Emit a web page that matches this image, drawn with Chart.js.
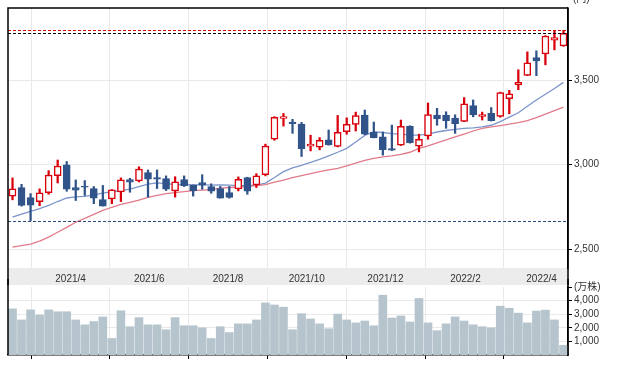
<!DOCTYPE html>
<html>
<head>
<meta charset="utf-8">
<script src="https://cdn.jsdelivr.net/npm/chart.js@4.4.1/dist/chart.umd.min.js"></script>
<style>
  body { margin: 0; background: #fff; }
  canvas { position: absolute; left: 0; }
  #price { top: 0; }
  #volume { top: 279px; }
</style>
</head>
<body>
<canvas id="price" width="624" height="285"></canvas>
<canvas id="volume" width="624" height="90"></canvas>
<script>
// weekly candles, first week starts 2021-02-15
const weekStart = Date.UTC(2021, 1, 15);
const tickLabels = ["2021/4", "2021/6", "2021/8", "2021/10", "2021/12", "2022/2", "2022/4"];

const opens = [2814, 2865, 2806, 2781, 2834, 2935, 3000, 2865, 2872, 2859, 2794, 2798, 2839, 2912, 2904, 2953,
  2924, 2918, 2845, 2912, 2879, 2894, 2871, 2859, 2835, 2857, 2924, 2881, 2941, 3151, 3275, 3253,
  3241, 3110, 3104, 3147, 3108, 3196, 3239, 3294, 3194, 3165, 3096, 3116, 3229, 3110, 3171, 3294,
  3294, 3276, 3257, 3351, 3286, 3304, 3286, 3392, 3475, 3529, 3635, 3657, 3739, 3704];
const highs = [2922, 2884, 2829, 2857, 2965, 3028, 3019, 2910, 2906, 2871, 2877, 2853, 2922, 2920, 2988, 2969,
  2969, 2934, 2929, 2934, 2880, 2941, 2887, 2871, 2871, 2928, 2926, 2947, 3122, 3285, 3304, 3269,
  3251, 3175, 3161, 3206, 3292, 3278, 3312, 3324, 3253, 3194, 3235, 3265, 3231, 3181, 3366, 3334,
  3314, 3296, 3398, 3384, 3312, 3339, 3430, 3441, 3563, 3669, 3675, 3765, 3797, 3797];
const lows = [2792, 2755, 2669, 2757, 2825, 2892, 2843, 2788, 2818, 2769, 2755, 2769, 2782, 2837, 2898, 2808,
  2859, 2847, 2808, 2871, 2814, 2855, 2831, 2802, 2802, 2845, 2825, 2865, 2934, 3145, 3229, 3186,
  3049, 3082, 3088, 3116, 3106, 3181, 3200, 3178, 3159, 3057, 3084, 3114, 3128, 3076, 3151, 3234,
  3216, 3186, 3255, 3284, 3265, 3259, 3282, 3302, 3445, 3528, 3528, 3592, 3681, 3702];
const closes = [2857, 2759, 2761, 2834, 2939, 2992, 2855, 2849, 2867, 2802, 2755, 2851, 2910, 2896, 2975, 2914,
  2914, 2855, 2898, 2876, 2847, 2879, 2843, 2802, 2806, 2914, 2843, 2934, 3110, 3281, 3286, 3243,
  3096, 3122, 3145, 3118, 3192, 3239, 3292, 3181, 3161, 3090, 3086, 3228, 3131, 3151, 3298, 3272,
  3261, 3243, 3361, 3296, 3298, 3261, 3428, 3420, 3488, 3604, 3616, 3763, 3753, 3779];
// 出来高 (万株)
const volumes = [3390, 2580, 3320, 2940, 3320, 3180, 3180, 2580, 2220, 2460, 2800, 1215, 3250, 2080, 2750, 2220,
  2220, 1860, 2750, 2150, 2150, 2000, 1215, 2080, 1650, 2290, 2290, 2580, 3830, 3680, 3520, 1860,
  3040, 2650, 2290, 1930, 3010, 2580, 2360, 2500, 2150, 4400, 2720, 2870, 2430, 4160, 2360, 1790,
  2290, 2800, 2500, 2220, 2080, 2000, 3590, 3440, 3080, 2360, 3230, 3300, 2580, 710];
// moving averages
const maShort = [2690, 2707, 2724, 2740, 2759, 2782, 2803, 2809, 2812, 2822, 2832, 2840, 2847, 2856, 2870, 2885,
  2892, 2888, 2882, 2884, 2881, 2882, 2879, 2880, 2879, 2876, 2876, 2879, 2891, 2924, 2959, 2982,
  2996, 3014, 3032, 3053, 3074, 3097, 3135, 3174, 3194, 3191, 3185, 3182, 3176, 3176, 3182, 3194,
  3203, 3210, 3216, 3218, 3224, 3234, 3256, 3282, 3308, 3347, 3384, 3418, 3452, 3488];
const maLong = [2512, 2521, 2529, 2547, 2571, 2600, 2629, 2659, 2682, 2706, 2729, 2748, 2765, 2777, 2791, 2806,
  2818, 2829, 2835, 2841, 2847, 2850, 2853, 2862, 2865, 2868, 2871, 2876, 2882, 2897, 2909, 2924,
  2935, 2947, 2959, 2969, 2979, 2994, 3009, 3026, 3038, 3047, 3053, 3062, 3074, 3097, 3112, 3129,
  3147, 3165, 3182, 3200, 3215, 3224, 3232, 3241, 3250, 3262, 3279, 3300, 3321, 3341];

const WEEK = 7 * 864e5;
const tickPos = tickLabels.map(s => {
  const [y, m] = s.split("/").map(Number);
  return (Date.UTC(y, m - 1, 1) - weekStart) / WEEK;
});

const RED = "#d9000c";
const BLUE = "#30548a";
const GRID = "#e9e9e9";
const FONT = { family: '"Liberation Sans", "Noto Sans CJK JP", sans-serif', size: 10 };
const isUp = i => closes[i] >= opens[i];
const monthTicks = scale => { scale.ticks = tickPos.map(v => ({ value: v })); };
const xRange = { type: "linear", min: -0.5, max: opens.length - 0.5, offset: false };

const frame = {
  id: "frame",
  beforeDraw(chart) {
    if (chart.canvas.id !== "price") return;
    const { ctx, chartArea: a } = chart;
    ctx.save();
    ctx.fillStyle = "#ececec";
    ctx.fillRect(a.left, a.bottom, a.right - a.left, chart.height - a.bottom);
    ctx.restore();
  },
  afterDraw(chart) {
    const { ctx, chartArea: a } = chart;
    const isPrice = chart.canvas.id === "price";
    const top = isPrice ? a.top : 0;
    const bottom = isPrice ? chart.height : a.bottom;
    ctx.save();
    ctx.strokeStyle = "#000";
    ctx.lineWidth = 1.5;
    ctx.beginPath();
    ctx.moveTo(a.left, bottom); ctx.lineTo(a.left, top);
    if (isPrice) ctx.lineTo(a.right, top);
    ctx.moveTo(a.right, top); ctx.lineTo(a.right, bottom);
    ctx.stroke();
    if (isPrice) {
      ctx.fillStyle = "#333";
      ctx.font = "10px " + FONT.family;
      ctx.fillText("(円)", 573, 2);
    }
    ctx.restore();
  }
};

// high / low / last close markers
const refLines = {
  id: "refLines",
  afterDatasetsDraw(chart) {
    const { ctx, chartArea: a, scales: { y } } = chart;
    const lines = [
      [Math.max(...highs), "#d40000"],
      [closes[closes.length - 1], "#000"],
      [Math.min(...lows), "#2c4a7c"],
    ];
    ctx.save();
    ctx.lineWidth = 1;
    ctx.setLineDash([3, 2]);
    for (const [v, c] of lines) {
      const py = Math.round(y.getPixelForValue(v)) + 0.5;
      ctx.strokeStyle = c;
      ctx.beginPath();
      ctx.moveTo(a.left, py);
      ctx.lineTo(a.right, py);
      ctx.stroke();
    }
    ctx.restore();
  }
};

new Chart(document.getElementById("price"), {
  type: "bar",
  data: {
    datasets: [
      {
        type: "line",
        data: maShort.map((v, i) => ({ x: i, y: v })),
        borderColor: "#7c95cb",
        borderWidth: 1.3,
        pointRadius: 0,
        order: 4,
      },
      {
        type: "line",
        data: maLong.map((v, i) => ({ x: i, y: v })),
        borderColor: "#e27b89",
        borderWidth: 1.3,
        pointRadius: 0,
        order: 3,
      },
      {
        // wicks
        data: lows.map((v, i) => ({ x: i, y: [v, highs[i]] })),
        backgroundColor: ctx => isUp(ctx.dataIndex) ? RED : BLUE,
        barThickness: 1.6,
        grouped: false,
        order: 2,
      },
      {
        // bodies
        data: opens.map((v, i) => ({ x: i, y: [v, closes[i]] })),
        backgroundColor: ctx => isUp(ctx.dataIndex) ? "#fff" : BLUE,
        borderColor: ctx => isUp(ctx.dataIndex) ? RED : BLUE,
        borderWidth: 1.5,
        borderSkipped: false,
        barThickness: 7,
        grouped: false,
        order: 1,
      },
    ],
  },
  options: {
    responsive: false,
    animation: false,
    devicePixelRatio: 1,
    layout: { padding: { left: 8, top: 6, right: 0, bottom: 0 } },
    plugins: { legend: { display: false }, tooltip: { enabled: false } },
    scales: {
      x: {
        ...xRange,
        afterBuildTicks: monthTicks,
        afterFit: s => { s.height = 17; },
        border: { display: false },
        grid: { color: GRID, drawTicks: false },
        ticks: { font: FONT, color: "#333", padding: 5, maxRotation: 0, autoSkip: false,
          callback: (v, i) => tickLabels[i] },
      },
      y: {
        position: "right",
        min: 2388,
        max: 3929,
        afterBuildTicks: s => { s.ticks = [2500, 3000, 3500].map(v => ({ value: v })); },
        afterFit: s => { s.width = 56; },
        border: { color: "#000", width: 1.5 },
        grid: { color: GRID, tickColor: "#000", tickLength: 4 },
        ticks: { font: FONT, color: "#333", padding: 2, callback: v => v.toLocaleString("en-US") },
      },
    },
  },
  plugins: [frame, refLines],
});

new Chart(document.getElementById("volume"), {
  type: "bar",
  data: {
    datasets: [{
      data: volumes.map((v, i) => ({ x: i, y: v })),
      backgroundColor: "#b6c5cd",
      barThickness: 8,
    }],
  },
  options: {
    responsive: false,
    animation: false,
    devicePixelRatio: 1,
    layout: { padding: { left: 8, top: 7, right: 0, bottom: 0 } },
    plugins: { legend: { display: false }, tooltip: { enabled: false } },
    scales: {
      x: {
        ...xRange,
        afterBuildTicks: monthTicks,
        afterFit: s => { s.height = 14; },
        border: { color: "#000", width: 1.5 },
        grid: { color: GRID, tickColor: "#000", tickLength: 4 },
        ticks: { display: false },
      },
      y: {
        position: "right",
        min: 0,
        max: 5000,
        afterBuildTicks: s => { s.ticks = [1000, 2000, 3000, 4000, 5000].map(v => ({ value: v })); },
        afterFit: s => { s.width = 56; },
        border: { color: "#000", width: 1.5 },
        grid: { color: c => c.tick && c.tick.value === 5000 ? "rgba(0,0,0,0)" : GRID, tickColor: "#000", tickLength: 4 },
        ticks: { font: FONT, color: "#333", padding: 2,
          callback: v => v === 5000 ? "(万株)" : v.toLocaleString("en-US") },
      },
    },
  },
  plugins: [frame],
});
</script>
</body>
</html>
